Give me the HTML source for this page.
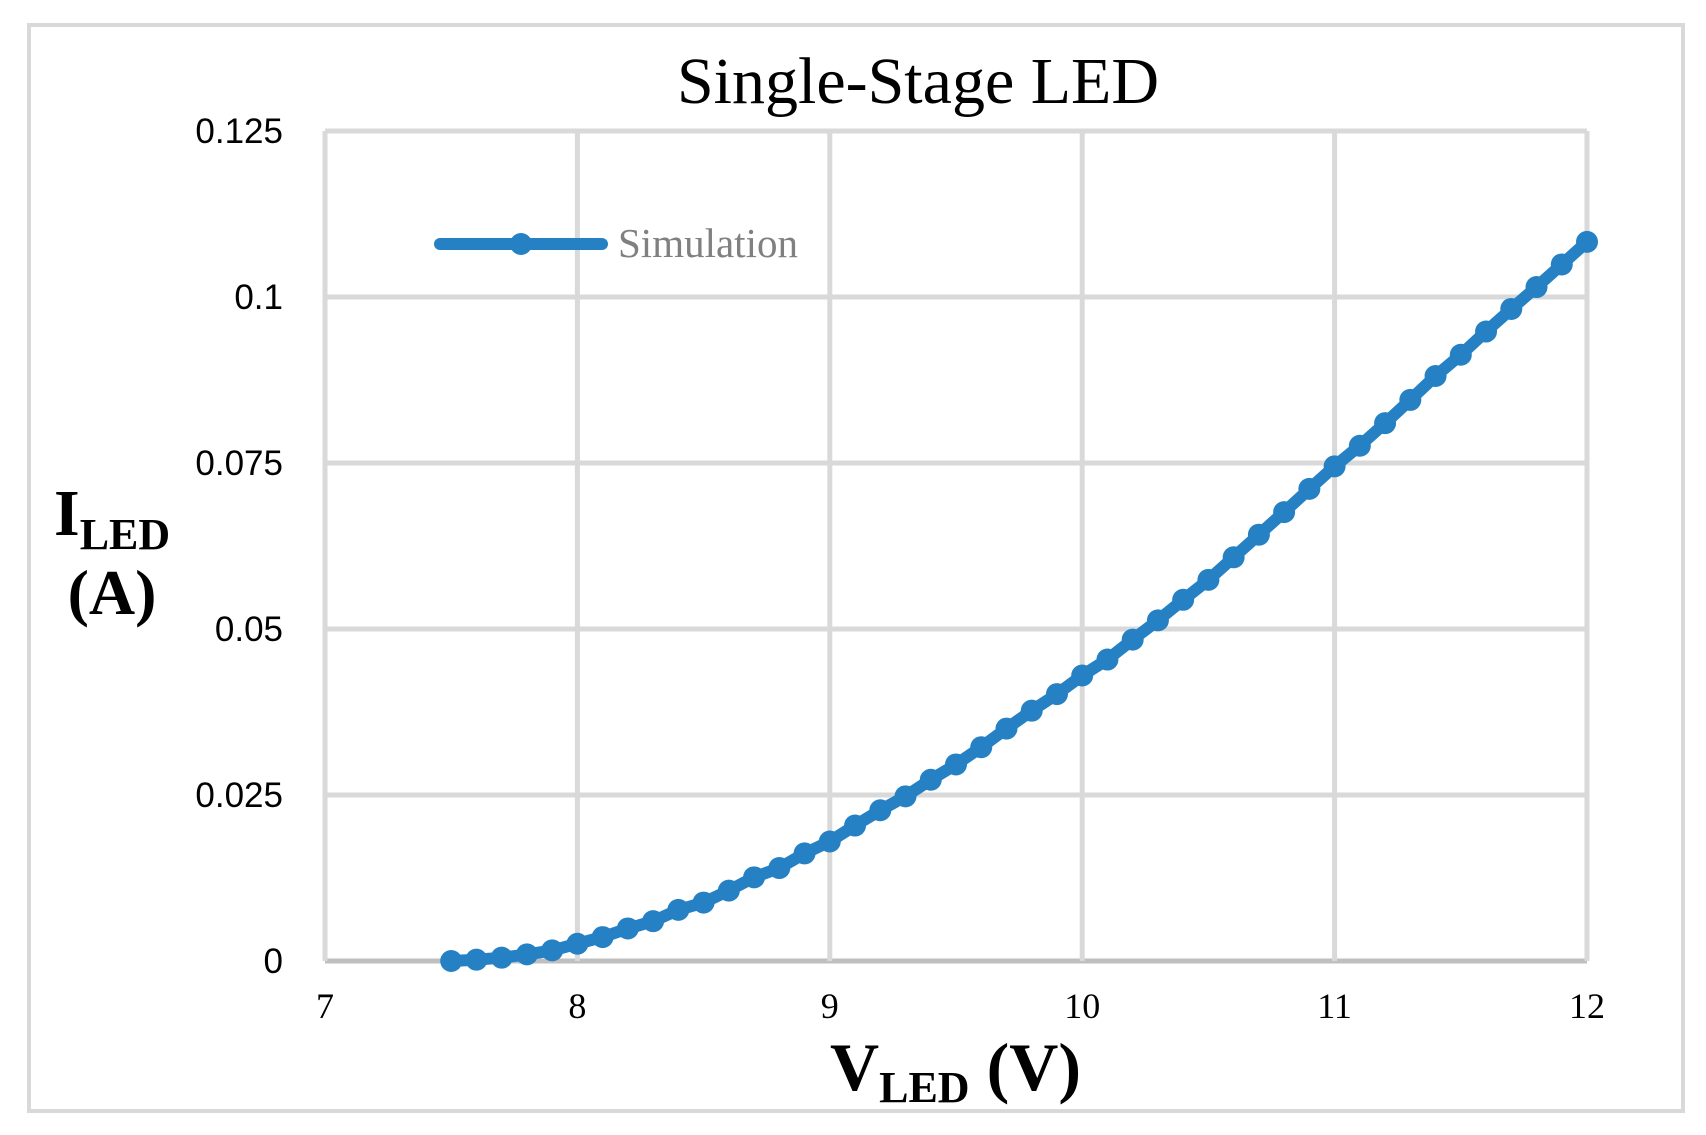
<!DOCTYPE html>
<html><head><meta charset="utf-8"><style>
html,body{margin:0;padding:0;background:#fff;}
svg{display:block;}
</style></head><body>
<svg id="chart" width="1706" height="1135" xmlns="http://www.w3.org/2000/svg">
<rect x="29" y="25" width="1654" height="1086" fill="#fff" stroke="#d9d9d9" stroke-width="4"/>
<text x="918" y="103" text-anchor="middle" font-family="Liberation Serif, serif" font-size="66">Single-Stage LED</text>
<g id="grid"></g>
<g id="ticks"></g>
<g id="series"></g>
<g>
<line x1="440" y1="244" x2="602" y2="244" stroke="#2581c4" stroke-width="12" stroke-linecap="round"/>
<circle cx="521" cy="244" r="11" fill="#2581c4"/>
<text x="618" y="257" font-family="Liberation Serif, serif" font-size="41" fill="#808080">Simulation</text>
</g>
<text font-family="Liberation Serif, serif" font-weight="bold" fill="#000"><tspan x="54" y="535" font-size="66">I</tspan><tspan font-size="44" dy="14">LED</tspan></text>
<text x="112" y="614" text-anchor="middle" font-family="Liberation Serif, serif" font-weight="bold" font-size="64">(A)</text>
<text font-family="Liberation Serif, serif" font-weight="bold"><tspan x="830" y="1090" font-size="68">V</tspan><tspan font-size="44" dy="12">LED</tspan><tspan font-size="68" dy="-12"> (V)</tspan></text>
</svg>
<script>
const xTicks = [7, 8, 9, 10, 11, 12];
const yTicks = [0, 0.025, 0.05, 0.075, 0.1, 0.125];
const yTickLabels = ["0", "0.025", "0.05", "0.075", "0.1", "0.125"];
const voltages = [7.5,7.6,7.7,7.8,7.9,8.0,8.1,8.2,8.3,8.4,8.5,8.6,8.7,8.8,8.9,9.0,9.1,9.2,9.3,9.4,9.5,9.6,9.7,9.8,9.9,10.0,10.1,10.2,10.3,10.4,10.5,10.6,10.7,10.8,10.9,11.0,11.1,11.2,11.3,11.4,11.5,11.6,11.7,11.8,11.9,12.0];
const currents = [0,0.0002,0.0005,0.001,0.0016,0.0026,0.0036,0.0049,0.006,0.0077,0.0088,0.0106,0.0126,0.014,0.0162,0.018,0.0204,0.0227,0.0248,0.0273,0.0296,0.0322,0.035,0.0377,0.0402,0.043,0.0454,0.0484,0.0513,0.0544,0.0574,0.0608,0.0642,0.0676,0.0711,0.0745,0.0776,0.081,0.0845,0.0881,0.0913,0.0948,0.0982,0.1015,0.1049,0.1083];

const NS = "http://www.w3.org/2000/svg";
const X0 = 7, X1 = 12, PX0 = 325, PX1 = 1587;
const Y0 = 0, Y1 = 0.125, PY0 = 961, PY1 = 131;
const sx = v => PX0 + (v - X0) / (X1 - X0) * (PX1 - PX0);
const sy = v => PY0 - (v - Y0) / (Y1 - Y0) * (PY0 - PY1);
function mk(tag, attrs, parent) {
  const e = document.createElementNS(NS, tag);
  for (const k in attrs) e.setAttribute(k, attrs[k]);
  parent.appendChild(e);
  return e;
}
const grid = document.getElementById('grid');
const ticks = document.getElementById('ticks');
yTicks.forEach((t, i) => {
  const l = mk('line', {x1: PX0, x2: PX1, y1: sy(t), y2: sy(t), stroke: t === 0 ? '#bfbfbf' : '#d9d9d9', 'stroke-width': 5}, grid);
  
  
  const tx = mk('text', {x: 283, y: sy(t) + 12, 'text-anchor': 'end', 'font-family': 'Liberation Sans, sans-serif', 'font-size': 35}, ticks);
  tx.textContent = yTickLabels[i];
  
  
});
xTicks.forEach(t => {
  const l = mk('line', {x1: sx(t), x2: sx(t), y1: PY1, y2: PY0, stroke: '#d9d9d9', 'stroke-width': 5}, grid);
  
  
  const tx = mk('text', {x: sx(t), y: 1018, 'text-anchor': 'middle', 'font-family': 'Liberation Serif, serif', 'font-size': 36}, ticks);
  tx.textContent = String(t);
  
  
});
const series = document.getElementById('series');
const pts = voltages.map((v, i) => sx(v).toFixed(1) + ',' + sy(currents[i]).toFixed(1)).join(' ');
const pl = mk('polyline', {points: pts, fill: 'none', stroke: '#2581c4', 'stroke-width': 12, 'stroke-linejoin': 'round', 'stroke-linecap': 'round'}, series);


voltages.forEach((v, i) => {
  const c = mk('circle', {cx: sx(v), cy: sy(currents[i]), r: 11, fill: '#2581c4'}, series);
  
  
});
</script>
</body></html>
